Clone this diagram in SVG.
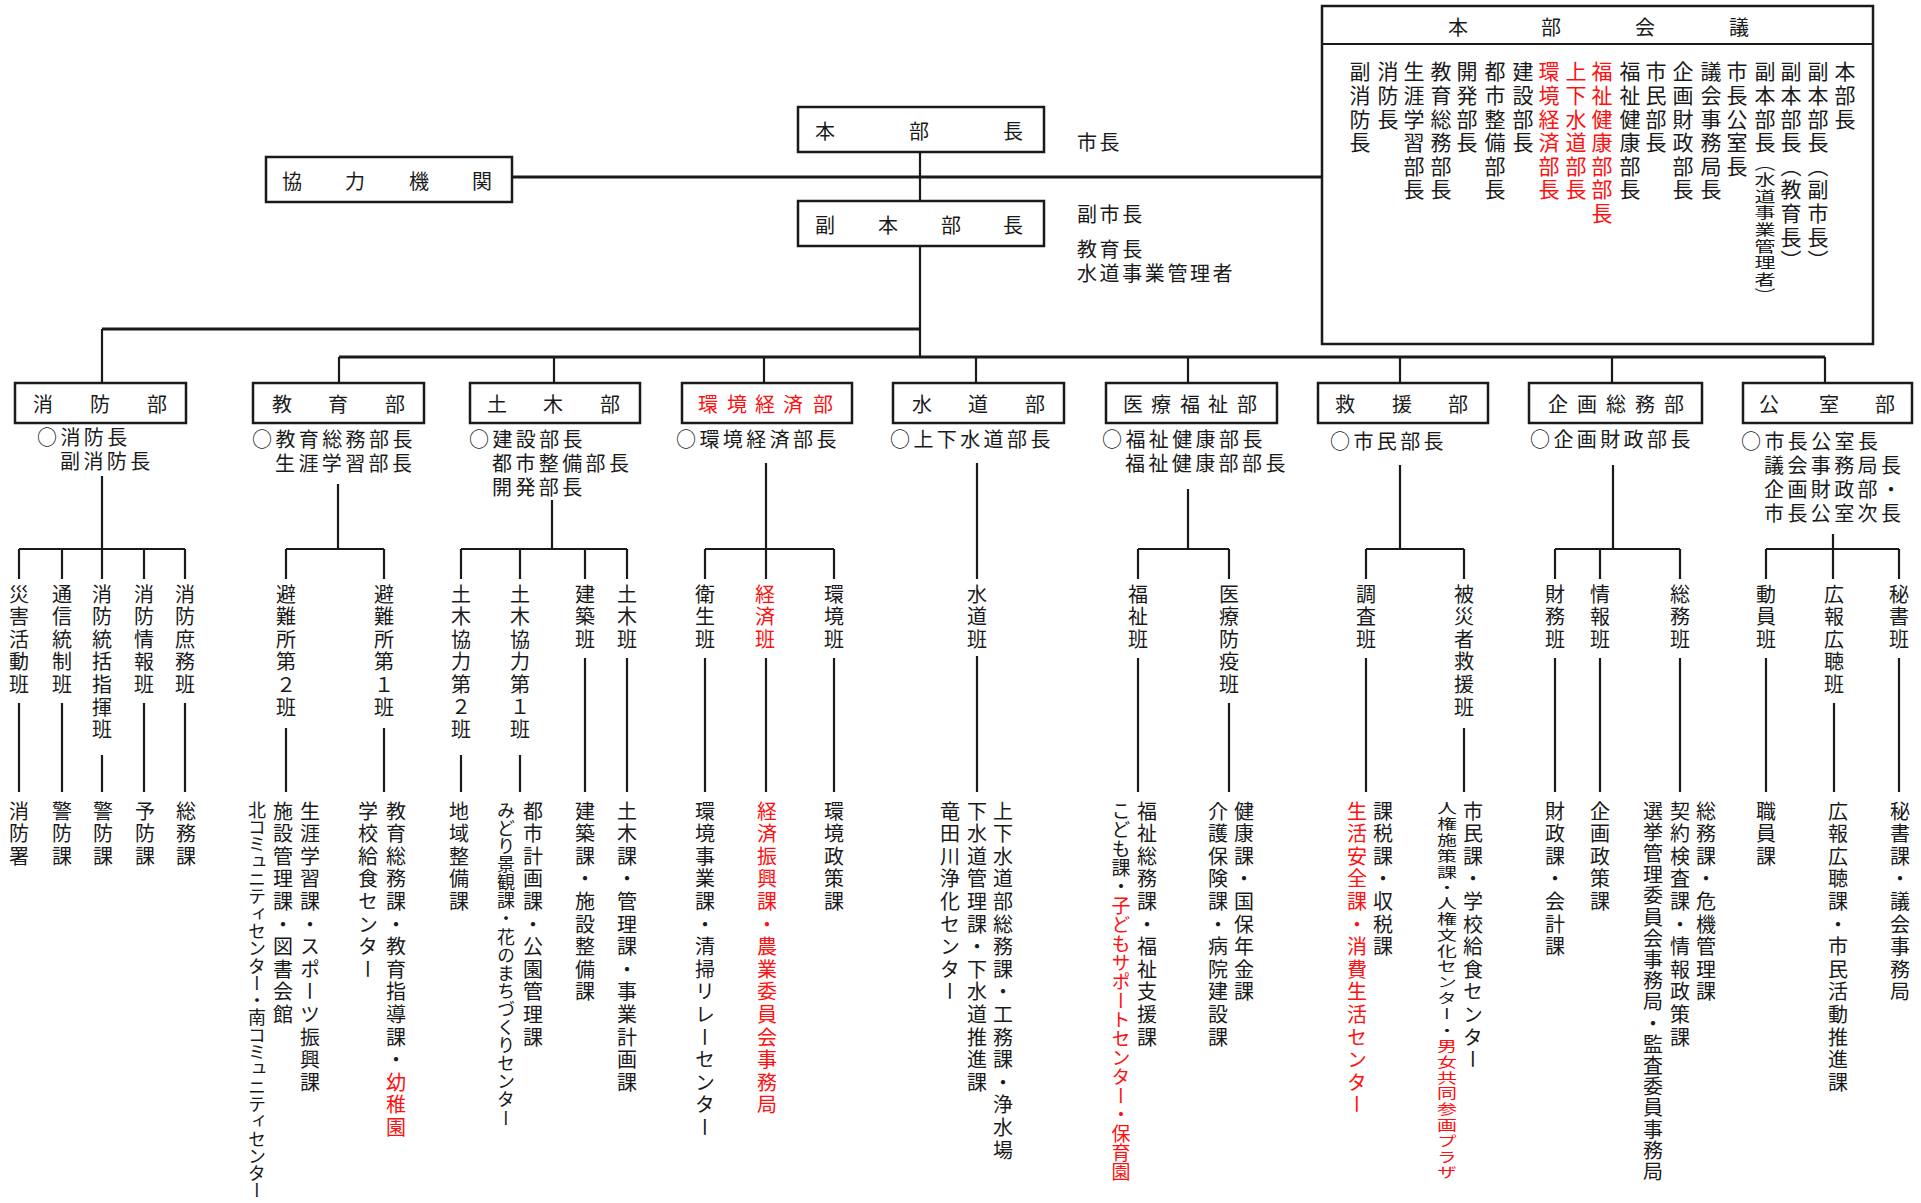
<svg xmlns="http://www.w3.org/2000/svg" width="1921" height="1203" viewBox="0 0 1921 1203">
<style>
text{font-family:"Noto Sans CJK JP","Noto Sans CJK SC",sans-serif;fill:#1a1a1a}
.v{font-size:20px;letter-spacing:2.6px;writing-mode:vertical-rl}
.m{font-size:21px;letter-spacing:2.6px;writing-mode:vertical-rl}
.h{font-size:20px;letter-spacing:3.4px;dominant-baseline:central}
.t{font-size:20px;text-anchor:middle;dominant-baseline:central}
.r{fill:#ff1010}
.bx{fill:#fff;stroke:#1a1a1a;stroke-width:2.5}
.ln{stroke:#1a1a1a;stroke-width:2.2;fill:none}
.lt{stroke:#1a1a1a;stroke-width:3;fill:none}
</style>
<rect width="1921" height="1203" fill="#fff"/>
<g id="connectors">
<path class="ln" d="M920 152V201M920 246V357"/>
<path class="lt" d="M512 177H1322M102 329H920M339 357H1825"/>
<path class="ln" d="M102 329V383M339 357V383M554 357V383M764 357V383M976 357V383M1188 357V383M1400 357V383M1612 357V383M1825 357V383"/>
<path class="ln" d="M102 476V549M19 549H185M19 549V579M62 549V579M102 549V579M144 549V579M185 549V579"/>
<path class="ln" d="M19 703V792M62 703V792M102 755V792M144 703V792M185 703V792"/>
<path class="ln" d="M338 484V549M286 549H384M286 549V579M384 549V579M286 728V792M384 728V792"/>
<path class="ln" d="M552 500V549M461 549H627M461 549V579M520 549V579M585 549V579M627 549V579M461 755V792M520 755V792M585 658V792M627 658V792"/>
<path class="ln" d="M766 463V579M705 549H834M705 549V579M834 549V579M705 658V792M766 658V792M834 658V792"/>
<path class="ln" d="M977 463V579M977 656V792"/>
<path class="ln" d="M1188 489V549M1138 549H1229M1138 549V579M1229 549V579M1138 658V792M1229 703V792"/>
<path class="ln" d="M1400 465V549M1366 549H1464M1366 549V579M1464 549V579M1366 658V792M1464 728V792"/>
<path class="ln" d="M1613 465V549M1555 549H1680M1555 549V579M1600 549V579M1680 549V579M1555 658V792M1600 658V792M1680 658V792"/>
<path class="ln" d="M1833 534V579M1766 549H1899M1766 549V579M1899 549V579M1766 658V792M1834 703V792M1899 658V792"/>
</g>

<g id="honbukaigi">
<rect class="bx" x="1322" y="6" width="551" height="338"/>
<line class="ln" x1="1322" y1="44" x2="1873" y2="44" stroke-width="2.5"/>
<text class="t" x="1458 1551 1645 1739" y="26">本部会議</text>
<text class="m" x="1845" y="61">本部長</text>
<text class="m" x="1818" y="61">副本部長（副市長）</text>
<text class="m" x="1791" y="61">副本部長（教育長）</text>
<text class="m" x="1765" y="61">副本部長</text>
<text class="m" transform="translate(1765 156) scale(1 0.7)" x="0" y="0">（水道事業管理者）</text>
<text class="m" x="1737" y="61">市長公室長</text>
<text class="m" x="1711" y="61">議会事務局長</text>
<text class="m" x="1683" y="61">企画財政部長</text>
<text class="m" x="1656" y="61">市民部長</text>
<text class="m" x="1630" y="61">福祉健康部長</text>
<text class="m r" x="1602" y="61">福祉健康部部長</text>
<text class="m r" x="1576" y="61">上下水道部長</text>
<text class="m r" x="1549" y="61">環境経済部長</text>
<text class="m" x="1523" y="61">建設部長</text>
<text class="m" x="1495" y="61">都市整備部長</text>
<text class="m" x="1467" y="61">開発部長</text>
<text class="m" x="1441" y="61">教育総務部長</text>
<text class="m" x="1414" y="61">生涯学習部長</text>
<text class="m" x="1388" y="61">消防長</text>
<text class="m" x="1360" y="61">副消防長</text>
</g>

<g id="honbucho">
<rect class="bx" x="798" y="107" width="246" height="45"/>
<text class="t" x="825 919 1013" y="130">本部長</text>
<text class="h" x="1077" y="141" style="letter-spacing:2.6px">市長</text>
</g>
<g id="kyoryokukikan">
<rect class="bx" x="266" y="157" width="246" height="45"/>
<text class="t" x="292 355 419 482" y="180">協力機関</text>
</g>
<g id="fukuhonbucho">
<rect class="bx" x="798" y="201" width="246" height="45"/>
<text class="t" x="825 888 951 1013" y="224">副本部長</text>
<text class="h" x="1077" y="213" style="letter-spacing:2.6px">副市長</text>
<text class="h" x="1077" y="248" style="letter-spacing:2.6px">教育長</text>
<text class="h" x="1077" y="272" style="letter-spacing:2.6px">水道事業管理者</text>
</g>

<g id="shobo">
<rect class="bx" x="15" y="383" width="171" height="40"/>
<text class="t" x="43 100 157" y="403">消防部</text>
<text class="h" x="37" y="436">○消防長</text>
<text class="h" x="60" y="460">副消防長</text>
<text class="v" x="19" y="584">災害活動班</text>
<text class="v" x="62" y="584">通信統制班</text>
<text class="v" x="102" y="584">消防統括指揮班</text>
<text class="v" x="144" y="584">消防情報班</text>
<text class="v" x="185" y="584">消防庶務班</text>
<text class="v" x="19" y="801">消防署</text>
<text class="v" x="62" y="801">警防課</text>
<text class="v" x="103" y="801">警防課</text>
<text class="v" x="145" y="801">予防課</text>
<text class="v" x="186" y="801">総務課</text>
</g>

<g id="kyoiku">
<rect class="bx" x="253" y="383" width="171" height="40"/>
<text class="t" x="282 338 395" y="403">教育部</text>
<text class="h" x="252" y="438">○教育総務部長</text>
<text class="h" x="275" y="462">生涯学習部長</text>
<text class="v" x="286" y="584">避難所第２班</text>
<text class="v" x="384" y="584">避難所第１班</text>
<text class="v" x="310" y="801">生涯学習課・スポーツ振興課</text>
<text class="v" x="283" y="801">施設管理課・図書会館</text>
<text class="v" x="257" y="801" style="font-size:18px;letter-spacing:-0.7px">北コミュニティセンター・南コミュニティセンター</text>
<text class="v" x="396" y="801">教育総務課・教育指導課・<tspan class="r">幼稚園</tspan></text>
<text class="v" x="368" y="801">学校給食センター</text>
</g>

<g id="doboku">
<rect class="bx" x="470" y="383" width="170" height="40"/>
<text class="t" x="497 553 610" y="403">土木部</text>
<text class="h" x="469" y="438">○建設部長</text>
<text class="h" x="492" y="462">都市整備部長</text>
<text class="h" x="492" y="486">開発部長</text>
<text class="v" x="461" y="584">土木協力第２班</text>
<text class="v" x="520" y="584">土木協力第１班</text>
<text class="v" x="585" y="584">建築班</text>
<text class="v" x="627" y="584">土木班</text>
<text class="v" x="459" y="801">地域整備課</text>
<text class="v" x="533" y="801">都市計画課・公園管理課</text>
<text class="v" x="506" y="801" style="font-size:18px;letter-spacing:0.1px">みどり景観課・花のまちづくりセンター</text>
<text class="v" x="585" y="801">建築課・施設整備課</text>
<text class="v" x="627" y="801">土木課・管理課・事業計画課</text>
</g>

<g id="kankyokeizai">
<rect class="bx" x="682" y="383" width="170" height="40"/>
<text class="t r" x="708 737 765 793 823" y="403">環境経済部</text>
<text class="h" x="676" y="438">○環境経済部長</text>
<text class="v" x="705" y="584">衛生班</text>
<text class="v r" x="765" y="584">経済班</text>
<text class="v" x="834" y="584">環境班</text>
<text class="v" x="705" y="801">環境事業課・清掃リレーセンター</text>
<text class="v r" x="767" y="801">経済振興課・農業委員会事務局</text>
<text class="v" x="834" y="801">環境政策課</text>
</g>

<g id="suido">
<rect class="bx" x="893" y="383" width="171" height="40"/>
<text class="t" x="922 978 1035" y="403">水道部</text>
<text class="h" x="890" y="438">○上下水道部長</text>
<text class="v" x="977" y="584">水道班</text>
<text class="v" x="1003" y="801">上下水道部総務課・工務課・浄水場</text>
<text class="v" x="977" y="801">下水道管理課・下水道推進課</text>
<text class="v" x="950" y="801">竜田川浄化センター</text>
</g>

<g id="iryofukushi">
<rect class="bx" x="1106" y="383" width="171" height="40"/>
<text class="t" x="1133 1161 1190 1218 1247" y="403">医療福祉部</text>
<text class="h" x="1102" y="438">○福祉健康部長</text>
<text class="h" x="1125" y="462">福祉健康部部長</text>
<text class="v" x="1138" y="584">福祉班</text>
<text class="v" x="1229" y="584">医療防疫班</text>
<text class="v" x="1147" y="801">福祉総務課・福祉支援課</text>
<text class="v" x="1121" y="801" style="font-size:19px;letter-spacing:0px">こども課・<tspan class="r">子どもサポートセンター・保育園</tspan></text>
<text class="v" x="1244" y="801">健康課・国保年金課</text>
<text class="v" x="1218" y="801">介護保険課・病院建設課</text>
</g>

<g id="kyuen">
<rect class="bx" x="1318" y="383" width="170" height="40"/>
<text class="t" x="1345 1402 1458" y="403">救援部</text>
<text class="h" x="1330" y="440">○市民部長</text>
<text class="v" x="1366" y="584">調査班</text>
<text class="v" x="1464" y="584">被災者救援班</text>
<text class="v" x="1383" y="801">課税課・収税課</text>
<text class="v r" x="1357" y="801">生活安全課・消費生活センター</text>
<text class="v" x="1473" y="801">市民課・学校給食センター</text>
<text class="v" transform="translate(1447 801) scale(1 0.7)" x="0" y="0">人権施策課・人権文化センター・<tspan class="r">男女共同参画プラザ</tspan></text>
</g>

<g id="kikakusomu">
<rect class="bx" x="1529" y="383" width="173" height="40"/>
<text class="t" x="1558 1587 1616 1645 1674" y="403">企画総務部</text>
<text class="h" x="1530" y="438">○企画財政部長</text>
<text class="v" x="1555" y="584">財務班</text>
<text class="v" x="1600" y="584">情報班</text>
<text class="v" x="1680" y="584">総務班</text>
<text class="v" x="1555" y="801">財政課・会計課</text>
<text class="v" x="1600" y="801">企画政策課</text>
<text class="v" x="1706" y="801">総務課・危機管理課</text>
<text class="v" x="1680" y="801">契約検査課・情報政策課</text>
<text class="v" x="1653" y="801" style="letter-spacing:1.2px">選挙管理委員会事務局・監査委員事務局</text>
</g>

<g id="koshitsu">
<rect class="bx" x="1743" y="383" width="169" height="40"/>
<text class="t" x="1769 1829 1885" y="403">公室部</text>
<text class="h" x="1741" y="440">○市長公室長</text>
<text class="h" x="1764" y="464">議会事務局長</text>
<text class="h" x="1764" y="488">企画財政部・</text>
<text class="h" x="1764" y="512">市長公室次長</text>
<text class="v" x="1766" y="584">動員班</text>
<text class="v" x="1834" y="584">広報広聴班</text>
<text class="v" x="1899" y="584">秘書班</text>
<text class="v" x="1766" y="801">職員課</text>
<text class="v" x="1838" y="801">広報広聴課・市民活動推進課</text>
<text class="v" x="1900" y="801">秘書課・議会事務局</text>
</g>
</svg>
